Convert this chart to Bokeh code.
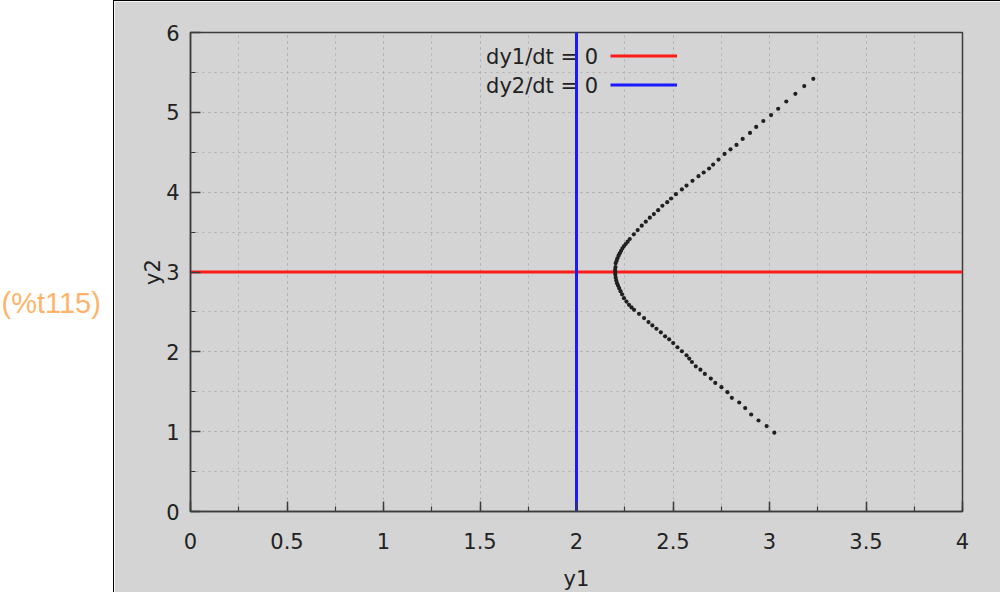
from bokeh.plotting import figure
from bokeh.models import (Range1d, Legend, LegendItem, Label, SingleIntervalTicker,
                          CustomJSTickFormatter)
from bokeh.layouts import row
from bokeh.embed import file_html
from bokeh.resources import INLINE
from bokeh.core.properties import value

# ---------------- data ----------------
traj_y1 = [3.227, 3.180, 3.134, 3.087, 3.045, 3.008, 2.968, 2.931, 2.899, 2.861,
           2.829, 2.798, 2.767, 2.736, 2.708, 2.687, 2.659, 2.632, 2.601, 2.570,
           2.546, 2.515, 2.490, 2.470, 2.445, 2.423, 2.401, 2.380, 2.359, 2.338,
           2.317, 2.297, 2.276, 2.265, 2.255, 2.246, 2.238, 2.231, 2.224, 2.218,
           2.212, 2.208, 2.203, 2.202, 2.200, 2.201, 2.201, 2.203, 2.206, 2.210,
           2.215, 2.221, 2.228, 2.236, 2.246, 2.259, 2.272, 2.285, 2.298, 2.324,
           2.350, 2.373, 2.393, 2.414, 2.437, 2.459, 2.480, 2.501, 2.523, 2.546,
           2.570, 2.584, 2.598, 2.618, 2.642, 2.665, 2.696, 2.719, 2.751, 2.782,
           2.805, 2.843, 2.874, 2.905, 2.943, 2.985, 3.025]
traj_y2 = [5.420, 5.329, 5.232, 5.136, 5.045, 4.966, 4.891, 4.817, 4.742, 4.667,
           4.592, 4.537, 4.479, 4.408, 4.346, 4.296, 4.246, 4.200, 4.142, 4.083,
           4.034, 3.975, 3.921, 3.875, 3.830, 3.775, 3.725, 3.680, 3.630, 3.580,
           3.525, 3.472, 3.413, 3.380, 3.351, 3.325, 3.297, 3.265, 3.234, 3.205,
           3.172, 3.140, 3.110, 3.060, 3.026, 3.000, 2.970, 2.930, 2.895, 2.860,
           2.830, 2.797, 2.760, 2.720, 2.672, 2.630, 2.589, 2.556, 2.526, 2.476,
           2.423, 2.373, 2.331, 2.289, 2.244, 2.194, 2.157, 2.110, 2.057, 2.007,
           1.957, 1.915, 1.873, 1.819, 1.777, 1.723, 1.665, 1.611, 1.557, 1.495,
           1.424, 1.365, 1.295, 1.215, 1.140, 1.070, 0.987]

# nullclines
null1_y1 = [0, 4]   # dy1/dt = 0
null1_y2 = [3, 3]
null2_y1 = [2, 2]   # dy2/dt = 0
null2_y2 = [0, 6]

legend_labels = ["dy1/dt = 0", "dy2/dt = 0"]
x_label = "y1"
y_label = "y2"
out_label = "(%t115)"

# ---------------- styles ----------------
PANEL = "#d4d4d4"
FONT = "DejaVu Sans"
TXT = "#222222"
FRAME = "#3c3c3c"
GRID = "#aeaeae"

# left white strip with the output label
left = figure(width=113, height=592, x_range=Range1d(0, 113), y_range=Range1d(0, 592),
              output_backend="svg", toolbar_location=None,
              x_axis_location=None, y_axis_location=None, min_border=0)
left.grid.visible = False
left.outline_line_color = None
left.background_fill_color = "white"
left.border_fill_color = "white"
left.add_layout(Label(x=1, y=257, text=out_label, text_font="Liberation Sans",
                      text_font_size="29px", text_color="#ffb469",
                      text_baseline="middle", text_align="left"))

# main plot
p = figure(width=887, height=592, x_range=Range1d(0, 4), y_range=Range1d(0, 6),
           output_backend="svg", toolbar_location=None,
           min_border_left=76, min_border_right=39, min_border_top=31, min_border_bottom=81,
           x_axis_label=x_label, y_axis_label=y_label)
p.background_fill_color = PANEL
p.border_fill_color = PANEL
p.outline_line_color = FRAME
p.outline_line_width = 1.5
p.styles = {"border-left": "1px solid #000000", "border-top": "1px solid #000000"}

p.xaxis.ticker = SingleIntervalTicker(interval=0.5, num_minor_ticks=2)
p.yaxis.ticker = SingleIntervalTicker(interval=1, num_minor_ticks=2)
fmt = CustomJSTickFormatter(code="return String(Math.round(tick*100)/100);")
for ax in (p.xaxis[0], p.yaxis[0]):
    ax.formatter = fmt
    ax.axis_line_color = FRAME
    ax.axis_line_width = 1.5
    ax.major_tick_in = 10
    ax.major_tick_out = 0
    ax.minor_tick_in = 5
    ax.minor_tick_out = 0
    ax.major_tick_line_color = FRAME
    ax.minor_tick_line_color = FRAME
    ax.major_tick_line_width = 1.5
    ax.minor_tick_line_width = 1.2
    ax.major_label_text_font = FONT
    ax.major_label_text_font_size = "21px"
    ax.major_label_text_color = TXT
    ax.axis_label_text_font = FONT
    ax.axis_label_text_font_size = "21px"
    ax.axis_label_text_font_style = "normal"
    ax.axis_label_text_color = TXT
p.xaxis.major_label_standoff = 21
p.xaxis.axis_label_standoff = 15
p.yaxis.major_label_standoff = 11
p.yaxis.axis_label_standoff = -2

for g in (p.xgrid[0], p.ygrid[0]):
    g.grid_line_color = GRID
    g.grid_line_dash = "2 4"
    g.grid_line_width = 1
    g.minor_grid_line_color = GRID
    g.minor_grid_line_dash = "2 4"
    g.minor_grid_line_width = 1

# legend texts (under the lines, like the reference)
p.text(x=[2.112, 2.112], y=[5.69, 5.33], text=legend_labels,
       text_align="right", text_baseline="middle",
       text_font=value(FONT), text_font_size="21px", text_color=TXT)

r_red = p.line(null1_y1, null1_y2, line_color="#ff1a1a", line_width=3)
r_blue = p.line(null2_y1, null2_y2, line_color="#1a1aff", line_width=3)
p.scatter(traj_y1, traj_y2, size=4.2, fill_color="#202020", line_color=None)

legend = Legend(items=[LegendItem(label=" ", renderers=[r_red]),
                       LegendItem(label=" ", renderers=[r_blue])],
                location=(420, 412), orientation="vertical",
                padding=0, margin=0, spacing=0,
                glyph_width=67, glyph_height=29, label_height=29, label_width=1,
                label_standoff=0, label_text_font_size="2px",
                border_line_color=None, background_fill_alpha=0)
p.add_layout(legend)

layout = row(left, p)
open("out.html", "w").write(file_html(layout, INLINE))
